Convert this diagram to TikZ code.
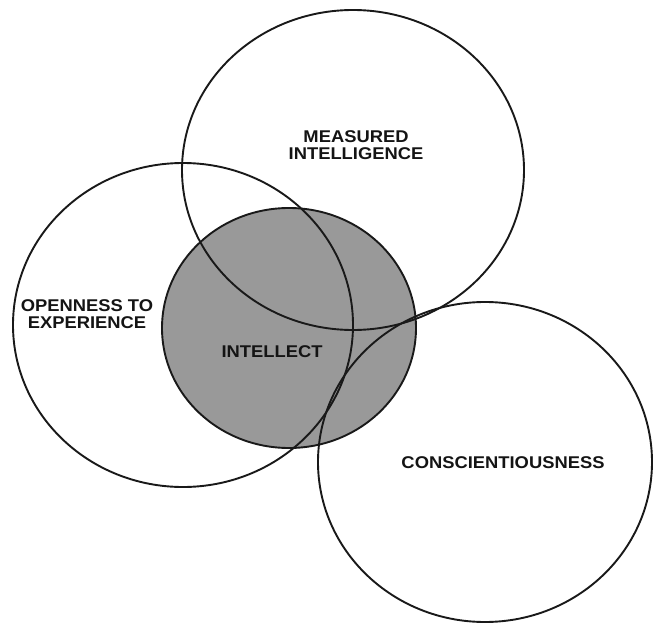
\documentclass[tikz,border=0pt]{standalone}
\usepackage{fontspec}
\setmainfont{Liberation Sans}[FakeStretch=1.08]
\begin{document}
\begin{tikzpicture}[x=1pt,y=-1pt,
    ring/.style={line width=1.9pt,draw=black!90},
    tag/.style={font=\bfseries\fontsize{17}{17}\selectfont,align=center,text=black!92,inner sep=0pt}]
  \useasboundingbox (0,0) rectangle (654,626);
  \fill[black!40] (289,328) ellipse [x radius=127pt,y radius=120pt];
  \draw[ring] (289,328) ellipse [x radius=127pt,y radius=120pt];
  \draw[ring] (353,170) ellipse [x radius=171pt,y radius=160pt];
  \draw[ring] (183,325) ellipse [x radius=170pt,y radius=162pt];
  \draw[ring] (485,462) ellipse [x radius=167pt,y radius=160pt];
  \node[tag] (measured) at (356,145) {MEASURED\\INTELLIGENCE};
  \node[tag] (openness) at (87,314) {OPENNESS TO\\EXPERIENCE};
  \node[tag] (intellect) at (272,352) {INTELLECT};
  \node[tag] (conscient) at (503,463) {CONSCIENTIOUSNESS};
\end{tikzpicture}
\end{document}
